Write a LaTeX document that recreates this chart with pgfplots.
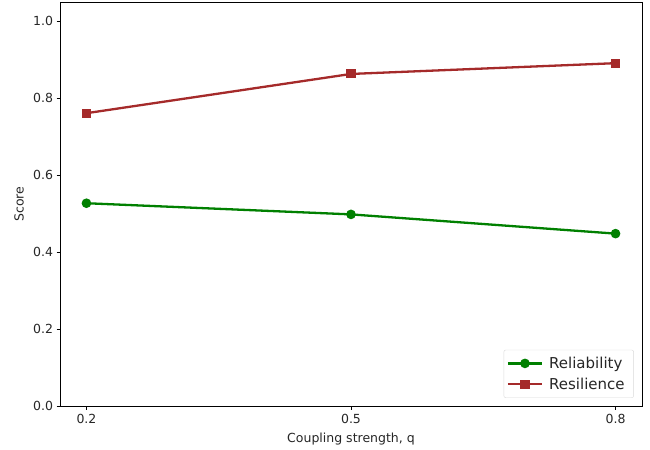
\documentclass[border=0pt]{standalone}
\usepackage{pgfplots}
\pgfplotsset{compat=1.18}
\usepackage{fontspec}
\setmainfont{DejaVu Sans}
\definecolor{mplgreen}{RGB}{0,128,0}
\definecolor{mplbrown}{RGB}{165,42,42}
\begin{document}
\begin{tikzpicture}
\useasboundingbox (-60bp,-44bp) rectangle (590bp,406bp);
\begin{axis}[
  at={(0,0)}, anchor=south west,
  scale only axis, width=582bp, height=404bp,
  xmin=0.17, xmax=0.83, ymin=0, ymax=1.05,
  xtick={0.2,0.5,0.8}, ytick={0,0.2,0.4,0.6,0.8,1.0},
  tick align=outside, tick pos=left,
  major tick length=3.5bp,
  every tick/.style={black, line width=0.8bp},
  axis line style={black, line width=0.8bp},
  /pgf/number format/assume math mode=true,
  /pgf/number format/fixed, /pgf/number format/fixed zerofill, /pgf/number format/precision=1,
  ticklabel style={font=\fontsize{12.5bp}{15bp}\selectfont, text=black!85},
  xticklabel style={yshift=-1bp},
  xlabel={Coupling strength, q}, ylabel={Score},
  every axis x label/.style={at={(axis description cs:0.5,-0.0817)}, anchor=center,
    font=\fontsize{12.5bp}{15bp}\selectfont, text=black!85},
  every axis y label/.style={at={(axis description cs:-0.0705,0.5)}, rotate=90, anchor=center,
    font=\fontsize{12.5bp}{15bp}\selectfont, text=black!85},
  legend style={at={(0.986,0.02)}, anchor=south east, draw=black!15, rounded corners=2bp,
    font=\fontsize{15bp}{18bp}\selectfont, text=black!85, inner xsep=3bp, inner ysep=5bp, row sep=4bp,
    nodes={inner xsep=6bp}},
  legend cell align=left,
  legend image code/.code={\draw[mark repeat=2,mark phase=2,#1] plot coordinates {(0bp,0bp) (17bp,0bp) (34bp,0bp)};},
]
\addplot[mplgreen, line width=2.3bp, mark=*, mark size=3.6bp, mark options={solid}] coordinates {
  (0.2,0.527) (0.5,0.498) (0.8,0.448)
};
\addlegendentry{Reliability}
\addplot[mplbrown, line width=2.3bp, mark=square*, mark size=3.4bp, mark options={solid}] coordinates {
  (0.2,0.761) (0.5,0.863) (0.8,0.891)
};
\addlegendentry{Resilience}
\end{axis}
\end{tikzpicture}
\end{document}
